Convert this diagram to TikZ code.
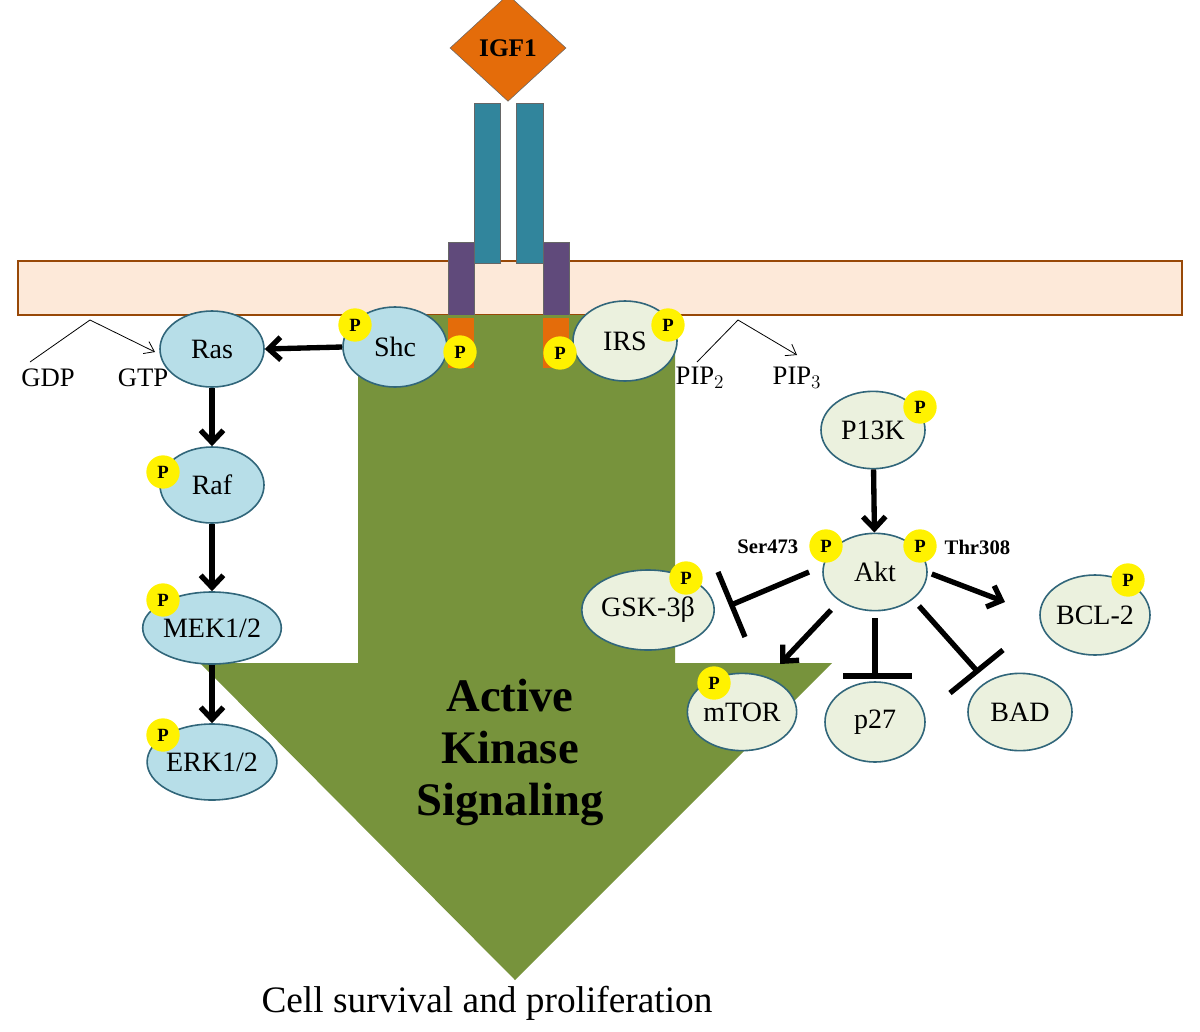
\documentclass[tikz,border=0pt]{standalone}
\usepackage{fontspec}
\setmainfont{Liberation Serif}
\usetikzlibrary{shapes.geometric,arrows.meta}
\definecolor{membr}{HTML}{FDE9D9}
\definecolor{membrd}{HTML}{984807}
\definecolor{teal}{HTML}{31859C}
\definecolor{purp}{HTML}{604A7B}
\definecolor{orng}{HTML}{E46C0A}
\definecolor{grn}{HTML}{77933C}
\definecolor{lblue}{HTML}{B7DEE8}
\definecolor{lgrn}{HTML}{EBF1DE}
\definecolor{edge}{HTML}{31667A}
\begin{document}
\begin{tikzpicture}[x=0.75pt,y=-0.75pt,
  blue/.style={ellipse,draw=edge,line width=1.2pt,fill=lblue,minimum width=78pt,minimum height=57pt,inner sep=0pt,font=\fontsize{21}{23}\selectfont},
  gray/.style={ellipse,draw=edge,line width=1.2pt,fill=lgrn,minimum width=78pt,minimum height=58pt,inner sep=0pt,font=\fontsize{21}{23}\selectfont},
  P/.style={circle,fill=yellow,minimum size=25pt,inner sep=0pt,font=\bfseries\fontsize{14}{15}\selectfont},
  act/.style={-{Straight Barb[length=9pt,width=17pt,line width=4pt]},line width=4pt},
  inh/.style={line width=4pt},
  thin/.style={line width=0.6pt,-{Straight Barb[length=7pt,width=10pt]}},
  lab/.style={font=\fontsize{20}{22}\selectfont}]
\useasboundingbox (0,0) rectangle (1200,1032);
% membrane
\draw[membrd,line width=1.2pt,fill=membr] (18,261) rectangle (1182,315);
% receptor
\fill[teal,draw=black!60] (474,103) rectangle (500,263);
\fill[teal,draw=black!60] (516,103) rectangle (543,263);
\fill[purp,draw=black!60] (448,242) rectangle (474,318);
\fill[purp,draw=black!60] (543,242) rectangle (569,318);
% green arrow
\fill[grn] (358,315) -- (675,315) -- (675,663) -- (832,663) -- (515,980) -- (200,663) -- (358,663) -- cycle;
\fill[orng] (448,318) rectangle (474,368);
\fill[orng] (543,318) rectangle (569,368);
\node[diamond,fill=orng,draw=black!60,minimum width=87pt,minimum height=80pt,inner sep=0pt,font=\bfseries\fontsize{19}{21}\selectfont] (igf) at (508,48) {IGF1};
\node[font=\bfseries\fontsize{35}{39}\selectfont,align=center] (aks) at (510,752) {Active\\Kinase\\Signaling};
\node[font=\fontsize{28}{32}\selectfont] (cell) at (487,1003) {Cell survival and proliferation};
% nodes
\node[blue] (ras) at (212,349) {Ras};
\node[blue,minimum height=60pt] (shc) at (395,347) {Shc};
\node[gray,minimum height=60pt] (irs) at (625,341) {IRS};
\node[blue] (raf) at (212,485) {Raf};
\node[blue,minimum height=54pt] (mek) at (212,628) {MEK1/2};
\node[blue] (erk) at (212,762) {ERK1/2};
\node[gray] (pi3k) at (873,430) {P13K};
\node[gray] (akt) at (875,572) {Akt};
\node[gray,minimum height=60pt] (gsk) at (648,610) {GSK-3β};
\node[gray,minimum height=60pt] (bcl) at (1095,615) {BCL-2};
\node[gray,minimum width=75pt] (mtor) at (742,712) {mTOR};
\node[gray,minimum width=75pt,minimum height=60pt] (p27) at (875,722) {p27};
\node[gray] (bad) at (1020,712) {BAD};
% P circles
\node[P] (p1) at (355,325) {P};
\node[P] (p2) at (460,352) {P};
\node[P] (p3) at (560,353) {P};
\node[P] (p4) at (668,325) {P};
\node[P] (p5) at (163,472) {P};
\node[P] (p6) at (163,600) {P};
\node[P] (p7) at (163,735) {P};
\node[P] (p8) at (920,407) {P};
\node[P] (p9) at (826,546) {P};
\node[P] (p10) at (920,546) {P};
\node[P] (p11) at (686,578) {P};
\node[P] (p12) at (1128,580) {P};
\node[P] (p13) at (714,683) {P};
\node[font=\bfseries\fontsize{15.5}{17}\selectfont,anchor=east] (ser) at (803,547) {Ser473};
\node[font=\bfseries\fontsize{15.5}{17}\selectfont,anchor=west] (thr) at (940,547) {Thr308};
% labels
\node[lab] (gdp) at (48,378) {GDP};
\node[lab] (gtp) at (143,378) {GTP};
\node[lab] (pip2) at (700,378) {PIP$_2$};
\node[lab] (pip3) at (797,378) {PIP$_3$};
\coordinate (g1) at (90,320);
\coordinate (g2) at (738,320);
\draw[thin] (30,362) -- (g1) -- (155,352);
\draw[thin] (697,362) -- (g2) -- (797,355);
% arrows
\draw[act] (shc.west) -- (ras.east);
\draw[act] (ras) -- (raf);
\draw[act] (raf) -- (mek);
\draw[act] (mek) -- (erk);
\draw[act] (pi3k) -- (akt);
\draw[act] (akt.east) ++(4,2) -- (1005,602);
\draw[act] (akt) ++(-44,38) -- (780,664);
% inhibitions
\coordinate (b1) at (731,605);
\draw[inh] (akt) ++(-66,0) -- (b1);
\draw[inh] (718,572) -- (745,637);
\coordinate (b2) at (875,676);
\draw[inh] (akt) ++(0,46) -- (b2);
\draw[inh] (843,676) -- (912,676);
\coordinate (b3) at (977,671);
\draw[inh] (akt) ++(44,34) -- (b3);
\draw[inh] (950,693) -- (1003,650);
\end{tikzpicture}
\end{document}
